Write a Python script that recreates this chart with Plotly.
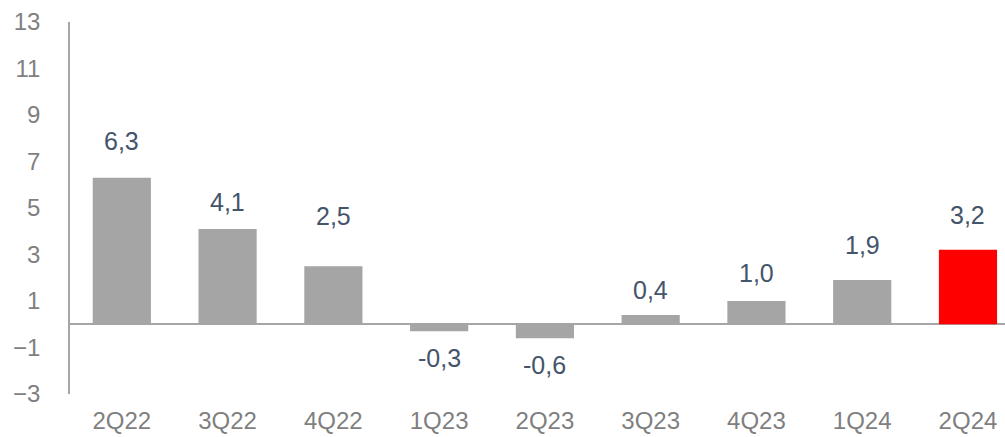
import plotly.graph_objects as go

categories = ["2Q22", "3Q22", "4Q22", "1Q23", "2Q23", "3Q23", "4Q23", "1Q24", "2Q24"]
values = [6.3, 4.1, 2.5, -0.3, -0.6, 0.4, 1.0, 1.9, 3.2]
y_ticks = [-3, -1, 1, 3, 5, 7, 9, 11, 13]

# pixel offsets of the value labels from the bar ends (style)
label_shift = [37, 27, 50, -27, -27, 25, 28, 35, 35]

colors = ["#A5A5A5"] * (len(values) - 1) + ["#FF0000"]
font_family = "Liberation Sans, Arial, sans-serif"

fig = go.Figure()
fig.add_trace(go.Bar(
    x=categories, y=values, marker=dict(color=colors, line=dict(width=0)),
    width=0.55, hoverinfo="skip",
))

for c, v, s in zip(categories, values, label_shift):
    fig.add_annotation(
        x=c, y=v, text=f"{v:.1f}".replace(".", ","), showarrow=False,
        yshift=s, yanchor="middle", xanchor="center",
        font=dict(family=font_family, size=25, color="#44546A"),
    )

fig.update_layout(
    width=1005, height=437,
    margin=dict(l=70, r=0, t=22, b=43),
    paper_bgcolor="white", plot_bgcolor="white",
    showlegend=False,
    font=dict(family=font_family, size=24, color="#7F7F7F"),
)
fig.update_xaxes(
    range=[-0.49, 8.35], showgrid=False, showline=False, zeroline=False,
    ticks="", tickfont=dict(size=24, color="#7F7F7F"), ticklabelstandoff=10,
)
fig.update_yaxes(
    range=[-3, 13], tickvals=y_ticks, showgrid=False,
    showline=True, linecolor="#A6A6A6", linewidth=1.5,
    zeroline=True, zerolinecolor="#A6A6A6", zerolinewidth=1.5,
    ticks="", tickfont=dict(size=24, color="#7F7F7F"), ticklabelstandoff=23,
)

fig.write_html("out.html")
